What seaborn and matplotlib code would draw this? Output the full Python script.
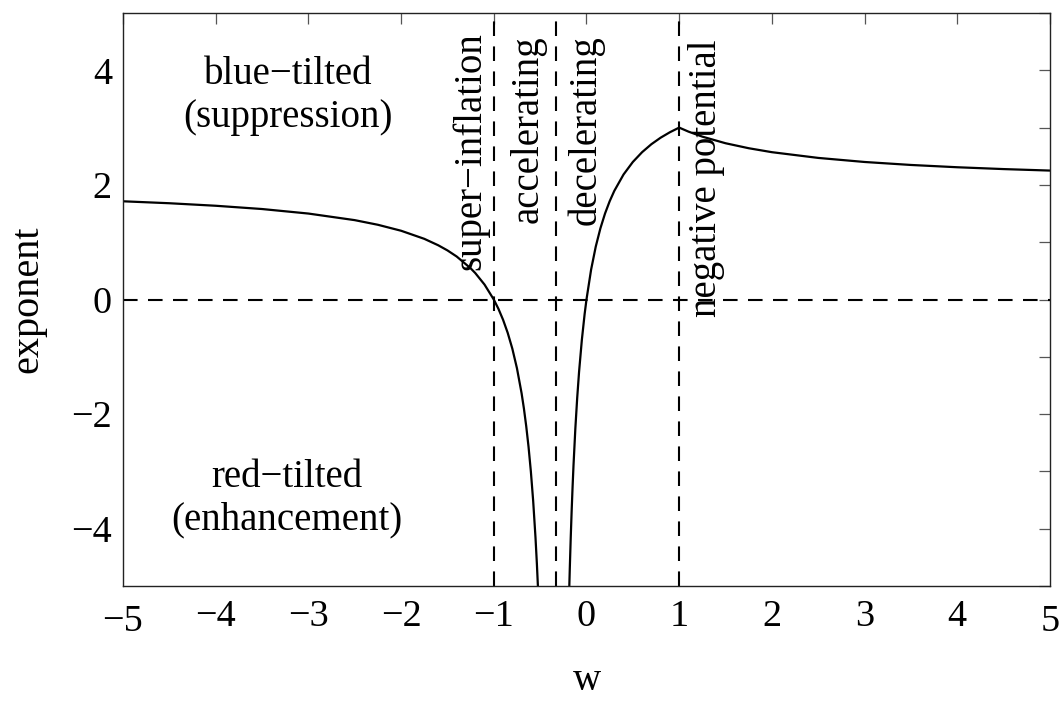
import matplotlib
matplotlib.use("Agg")
import matplotlib.pyplot as plt
import matplotlib.transforms as mtransforms
from matplotlib.ticker import MultipleLocator
import seaborn as sns
import pandas as pd

# Spectral tilt exponent as a function of the equation-of-state parameter w
w_left = [-5.0, -4.5, -4.0, -3.5, -3.0, -2.5, -2.25, -2.0, -1.75, -1.6, -1.5, -1.4,
          -1.25, -1.2, -1.1, -1.0, -0.95, -0.9, -0.85, -0.8, -0.75, -0.7, -0.675,
          -0.65, -0.625, -0.6, -0.575, -0.55, -0.535, -0.52]
exp_left = [1.714, 1.680, 1.636, 1.579, 1.500, 1.385, 1.304, 1.200, 1.059, 0.947,
            0.857, 0.750, 0.545, 0.462, 0.261, 0.000, -0.162, -0.353, -0.581,
            -0.857, -1.200, -1.636, -1.902, -2.211, -2.571, -3.000, -3.517,
            -4.154, -4.612, -5.143]

w_mid = [-0.186, -0.18, -0.17, -0.16, -0.15, -0.14, -0.12, -0.1, -0.08, -0.05,
         -0.02, 0.0, 0.05, 0.1, 0.15, 0.2, 0.25, 0.3, 0.4, 0.5, 0.6, 0.7, 0.8,
         0.9, 1.0]
exp_mid = [-5.050, -4.696, -4.163, -3.692, -3.273, -2.897, -2.250, -1.714,
           -1.263, -0.706, -0.255, 0.000, 0.522, 0.923, 1.241, 1.500, 1.714,
           1.895, 2.182, 2.400, 2.571, 2.710, 2.824, 2.919, 3.000]

w_right = [1.0, 1.1, 1.25, 1.5, 1.75, 2.0, 2.5, 3.0, 3.5, 4.0, 4.5, 5.0]
exp_right = [3.000, 2.930, 2.842, 2.727, 2.640, 2.571, 2.471, 2.400, 2.348,
             2.308, 2.276, 2.250]

# Region boundaries in w
w_boundaries = [-1.0, -1.0 / 3.0, 1.0]

# Region labels
region_labels = ["super\u2212inflation", "accelerating", "decelerating", "negative potential"]
region_label_pos = [(-1.245, 2.59), (-0.632, 2.97), (-0.01, 2.95), (1.29, 2.12)]
tilt_labels = ["blue\u2212tilted\n(suppression)", "red\u2212tilted\n(enhancement)"]
tilt_label_pos = [(-3.22, 3.55), (-3.23, -3.48)]

x_ticks = [-5, -4, -3, -2, -1, 0, 1, 2, 3, 4, 5]
y_ticks = [-4, -2, 0, 2, 4]

sns.set_theme(style="white")
plt.rcParams["font.family"] = ["Liberation Serif", "DejaVu Serif"]
plt.rcParams["text.color"] = "black"
plt.rcParams["axes.labelcolor"] = "black"
plt.rcParams["xtick.labelcolor"] = "black"
plt.rcParams["ytick.labelcolor"] = "black"

fig = plt.figure(figsize=(10.64, 7.02), dpi=100)
ax = fig.add_axes([0.1156, 0.1652, 0.8712, 0.8163])

branches = pd.concat([
    pd.DataFrame({"w": w_left, "exponent": exp_left, "branch": "left"}),
    pd.DataFrame({"w": w_mid, "exponent": exp_mid, "branch": "mid"}),
    pd.DataFrame({"w": w_right, "exponent": exp_right, "branch": "right"}),
])
for name, part in branches.groupby("branch"):
    sns.lineplot(data=part, x="w", y="exponent", color="black", linewidth=1.6,
                 sort=False, estimator=None, ax=ax)

dash = (7, 5)
ax.axhline(0, color="black", linewidth=1.5, dashes=dash, zorder=1)
for wb in w_boundaries:
    ax.axvline(wb, color="black", linewidth=1.5, dashes=dash, zorder=1)

for text, (x, y) in zip(region_labels, region_label_pos):
    ax.text(x, y, text, rotation=90, ha="center", va="center", fontsize=28,
            color="black")
for text, (x, y) in zip(tilt_labels, tilt_label_pos):
    ax.text(x, y, text, ha="center", va="center", fontsize=28, linespacing=1.2,
            color="black")

ax.set_xlim(-5, 5)
ax.set_ylim(-5, 5)
ax.set_xticks(x_ticks)
ax.set_yticks(y_ticks)
ax.yaxis.set_minor_locator(MultipleLocator(1))
ax.set_xticklabels([f"{t}".replace("-", "\u2212") for t in x_ticks])
ax.set_yticklabels([f"{t}".replace("-", "\u2212") for t in y_ticks])

ax.tick_params(axis="both", which="both", direction="in", length=8, width=0.9,
               color="#555555", top=True, right=True, labelsize=27.5)
ax.tick_params(axis="x", pad=10)
ax.tick_params(axis="y", pad=8)

# the end labels of the w axis sit slightly lower
drop = mtransforms.ScaledTranslation(0, -5 / 100, fig.dpi_scale_trans)
xlabels = ax.get_xticklabels()
for lab in (xlabels[0], xlabels[-1]):
    lab.set_transform(lab.get_transform() + drop)

for spine in ax.spines.values():
    spine.set_color("#222222")
    spine.set_linewidth(1.0)

ax.set_xlabel("w", fontsize=28, labelpad=16)
ax.set_ylabel("exponent", fontsize=29, labelpad=18)

fig.savefig("out.png", dpi=100)
